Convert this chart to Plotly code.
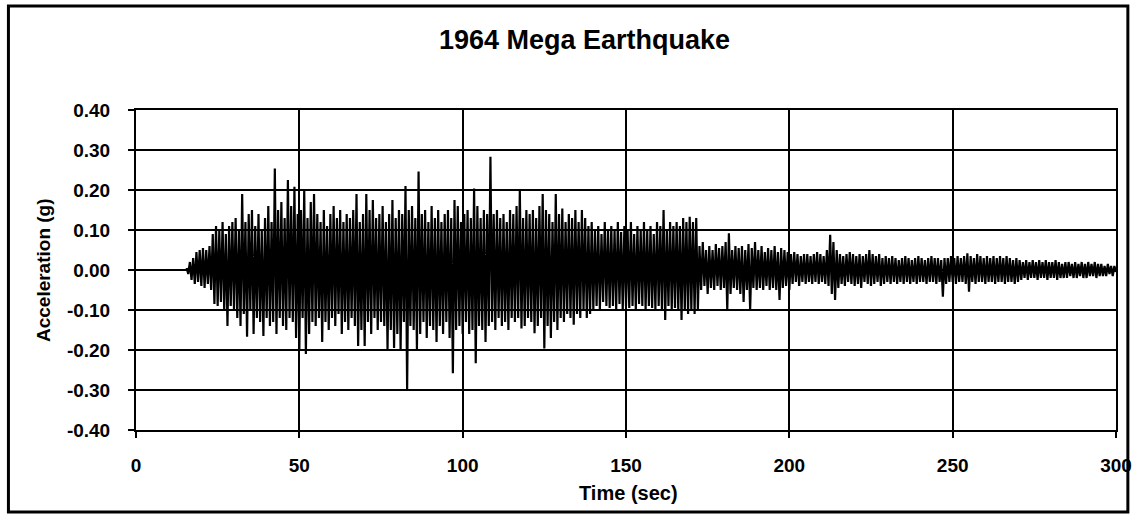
import plotly.graph_objects as go

# Time axis: first sample time and sample spacing (s)
t_start_s = 15.5
t_step_s = 0.5

# Ground acceleration (g), peaks read from the record, alternating up/down, 5 s per row
acc_g = [
    0.005, -0.01, 0.02, -0.025, 0.03, -0.035, 0.045, -0.03, 0.05, -0.04,
    0.055, -0.045, 0.05, -0.035, 0.06, -0.05, 0.09, -0.085, 0.11, -0.09,
    0.10, -0.08, 0.12, -0.10, 0.09, -0.14, 0.11, -0.09, 0.12, -0.10,
    0.13, -0.12, 0.10, -0.14, 0.19, -0.11, 0.12, -0.167, 0.14, -0.10,
    0.15, -0.16, 0.11, -0.12, 0.14, -0.13, 0.10, -0.165, 0.13, -0.12,
    0.16, -0.14, 0.12, -0.13, 0.254, -0.16, 0.15, -0.12, 0.17, -0.14,
    0.13, -0.15, 0.225, -0.12, 0.16, -0.13, 0.208, -0.17, 0.14, -0.20,
    0.15, -0.12, 0.20, -0.21, 0.13, -0.16, 0.17, -0.13, 0.19, -0.14,
    0.14, -0.12, 0.12, -0.18, 0.15, -0.13, 0.11, -0.15, 0.14, -0.12,
    0.16, -0.14, 0.13, -0.11, 0.15, -0.16, 0.12, -0.13, 0.14, -0.15,
    0.13, -0.12, 0.15, -0.14, 0.19, -0.19, 0.12, -0.15, 0.14, -0.19,
    0.19, -0.13, 0.15, -0.16, 0.175, -0.12, 0.13, -0.15, 0.14, -0.13,
    0.16, -0.14, 0.12, -0.20, 0.14, -0.15, 0.175, -0.195, 0.13, -0.16,
    0.15, -0.20, 0.14, -0.13, 0.21, -0.30, 0.15, -0.14, 0.16, -0.15,
    0.13, -0.20, 0.246, -0.16, 0.14, -0.13, 0.15, -0.17, 0.12, -0.14,
    0.16, -0.15, 0.13, -0.18, 0.15, -0.14, 0.12, -0.16, 0.14, -0.13,
    0.15, -0.17, 0.13, -0.258, 0.175, -0.15, 0.16, -0.14, 0.12, -0.16,
    0.14, -0.13, 0.15, -0.16, 0.13, -0.15, 0.204, -0.233, 0.16, -0.14,
    0.13, -0.15, 0.15, -0.18, 0.14, -0.14, 0.283, -0.13, 0.14, -0.15,
    0.15, -0.12, 0.13, -0.14, 0.14, -0.13, 0.12, -0.15, 0.15, -0.12,
    0.14, -0.13, 0.16, -0.12, 0.20, -0.146, 0.13, -0.14, 0.15, -0.12,
    0.14, -0.13, 0.15, -0.158, 0.13, -0.14, 0.16, -0.12, 0.19, -0.196,
    0.15, -0.14, 0.14, -0.17, 0.12, -0.13, 0.19, -0.15, 0.14, -0.12,
    0.154, -0.13, 0.12, -0.11, 0.14, -0.12, 0.13, -0.137, 0.15, -0.11,
    0.12, -0.12, 0.15, -0.10, 0.13, -0.12, 0.11, -0.11, 0.12, -0.10,
    0.10, -0.09, 0.11, -0.10, 0.09, -0.08, 0.12, -0.09, 0.10, -0.095,
    0.11, -0.09, 0.10, -0.10, 0.12, -0.085, 0.095, -0.10, 0.11, -0.09,
    0.10, -0.095, 0.12, -0.09, 0.09, -0.10, 0.11, -0.085, 0.10, -0.09,
    0.12, -0.10, 0.10, -0.09, 0.11, -0.095, 0.09, -0.10, 0.12, -0.09,
    0.11, -0.10, 0.15, -0.125, 0.10, -0.09, 0.12, -0.10, 0.11, -0.095,
    0.12, -0.10, 0.11, -0.125, 0.13, -0.10, 0.12, -0.11, 0.133, -0.10,
    0.12, -0.11, 0.13, -0.10, 0.06, -0.05, 0.07, -0.04, 0.05, -0.06,
    0.06, -0.045, 0.05, -0.05, 0.065, -0.04, 0.055, -0.05, 0.06, -0.045,
    0.07, -0.10, 0.092, -0.06, 0.05, -0.045, 0.06, -0.05, 0.055, -0.06,
    0.06, -0.08, 0.05, -0.05, 0.065, -0.10, 0.055, -0.045, 0.07, -0.05,
    0.05, -0.045, 0.06, -0.05, 0.045, -0.04, 0.055, -0.05, 0.05, -0.045,
    0.06, -0.05, 0.045, -0.075, 0.055, -0.045, 0.05, -0.04, 0.045, -0.05,
    0.04, -0.035, 0.045, -0.03, 0.04, -0.04, 0.035, -0.03, 0.04, -0.035,
    0.04, -0.03, 0.035, -0.035, 0.04, -0.03, 0.045, -0.035, 0.04, -0.03,
    0.035, -0.035, 0.05, -0.04, 0.088, -0.06, 0.07, -0.075, 0.05, -0.045,
    0.04, -0.035, 0.035, -0.04, 0.04, -0.03, 0.045, -0.035, 0.04, -0.04,
    0.035, -0.035, 0.04, -0.045, 0.035, -0.03, 0.04, -0.035, 0.05, -0.04,
    0.04, -0.035, 0.035, -0.03, 0.04, -0.04, 0.03, -0.035, 0.035, -0.03,
    0.03, -0.035, 0.035, -0.03, 0.03, -0.035, 0.025, -0.03, 0.03, -0.035,
    0.035, -0.03, 0.03, -0.035, 0.025, -0.03, 0.03, -0.035, 0.035, -0.03,
    0.03, -0.03, 0.025, -0.035, 0.03, -0.03, 0.035, -0.03, 0.03, -0.035,
    0.03, -0.03, 0.025, -0.067, 0.03, -0.035, 0.03, -0.03, 0.035, -0.03,
    0.03, -0.035, 0.035, -0.03, 0.03, -0.03, 0.035, -0.035, 0.042, -0.054,
    0.035, -0.03, 0.03, -0.035, 0.04, -0.03, 0.035, -0.03, 0.03, -0.035,
    0.035, -0.03, 0.03, -0.03, 0.035, -0.035, 0.03, -0.03, 0.035, -0.03,
    0.03, -0.035, 0.035, -0.03, 0.03, -0.03, 0.025, -0.035, 0.03, -0.03,
    0.025, -0.025, 0.02, -0.02, 0.025, -0.025, 0.02, -0.02, 0.025, -0.02,
    0.02, -0.025, 0.025, -0.02, 0.02, -0.02, 0.025, -0.025, 0.02, -0.02,
    0.02, -0.02, 0.025, -0.025, 0.02, -0.02, 0.015, -0.02, 0.02, -0.02,
    0.02, -0.015, 0.015, -0.02, 0.02, -0.02, 0.015, -0.015, 0.02, -0.02,
    0.015, -0.02, 0.02, -0.015, 0.015, -0.015, 0.02, -0.02, 0.015, -0.015,
    0.015, -0.015, 0.01, -0.015, 0.015, -0.01, 0.01, -0.015, 0.01, -0.005,
]

x_ticks = [0, 50, 100, 150, 200, 250, 300]
y_ticks = [-0.4, -0.3, -0.2, -0.1, 0.0, 0.1, 0.2, 0.3, 0.4]
y_tick_labels = ["-0.40", "-0.30", "-0.20", "-0.10", "0.00", "0.10", "0.20", "0.30", "0.40"]

title_text = "1964 Mega Earthquake"
x_title = "Time (sec)"
y_title = "Acceleration (g)"

FONT = "Liberation Sans, Arial, sans-serif"
W, H = 1144, 515
L, R, T, B = 136, 17, 110, 85
pw, ph = W - L - R, H - T - B


def px_x(px):
    return (px - L) / pw


def px_y(py):
    return (H - B - py) / ph


fig = go.Figure()
fig.add_trace(go.Scatter(
    y=acc_g, x0=t_start_s, dx=t_step_s, mode="lines",
    line=dict(color="black", width=2.2), showlegend=False, hoverinfo="skip",
))

axis_common = dict(
    showline=True, linecolor="black", linewidth=2, mirror=True,
    showgrid=True, gridcolor="black", gridwidth=2, zeroline=False,
    ticks="outside", ticklen=6, tickwidth=2, tickcolor="black",
    tickfont=dict(family=FONT, size=19, color="black", weight="bold"),
)

fig.update_xaxes(range=[0, 300], tickvals=x_ticks, ticklabelstandoff=11, **axis_common)
fig.update_yaxes(range=[-0.4, 0.4], tickvals=y_ticks, ticktext=y_tick_labels,
                 ticklabelstandoff=14, **axis_common)

fig.update_layout(
    width=W, height=H, margin=dict(l=L, r=R, t=T, b=B),
    paper_bgcolor="white", plot_bgcolor="white",
    annotations=[
        dict(text=title_text, xref="paper", yref="paper", x=px_x(590), y=px_y(40),
             showarrow=False, xanchor="center", yanchor="middle",
             font=dict(family=FONT, size=27, color="black", weight="bold")),
        dict(text=x_title, xref="paper", yref="paper", x=px_x(634), y=px_y(493),
             showarrow=False, xanchor="center", yanchor="middle",
             font=dict(family=FONT, size=20, color="black", weight="bold")),
        dict(text=y_title, xref="paper", yref="paper", x=px_x(42), y=px_y(270),
             showarrow=False, xanchor="center", yanchor="middle", textangle=-90,
             font=dict(family=FONT, size=19, color="black", weight="bold")),
    ],
    shapes=[
        dict(type="rect", xref="paper", yref="paper",
             x0=px_x(7), x1=px_x(1139), y0=px_y(512), y1=px_y(6),
             line=dict(color="black", width=3), fillcolor="rgba(0,0,0,0)", layer="above"),
    ],
)

fig.write_html("out.html")
